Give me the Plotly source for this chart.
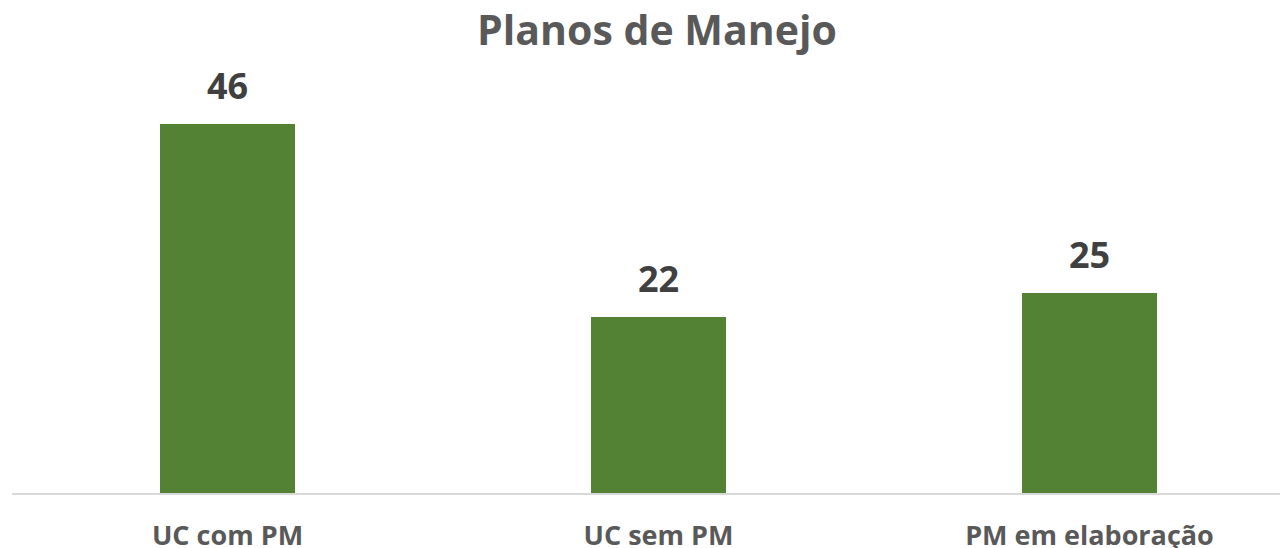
import plotly.graph_objects as go

categories = ["UC com PM", "UC sem PM", "PM em elaboração"]
values = [46, 22, 25]
title_text = "Planos de Manejo"

bar_color = "#548235"
font_family = "Open Sans"

fig = go.Figure()
fig.add_trace(go.Bar(
    x=categories,
    y=values,
    marker=dict(color=bar_color, line=dict(width=0)),
    width=0.313,
    hoverinfo="skip",
))

for c, v in zip(categories, values):
    fig.add_annotation(
        x=c, y=v, text=f"<b>{v}</b>", showarrow=False,
        yanchor="bottom", yshift=12,
        font=dict(family=font_family, size=36, color="#404040"),
    )

fig.update_layout(
    width=1280, height=540,
    margin=dict(l=4, r=0, t=52, b=55, autoexpand=False),
    paper_bgcolor="white", plot_bgcolor="white",
    showlegend=False,
    title=dict(
        text=f"<b>{title_text}</b>", x=0.507, xanchor="center",
        y=0.958, yanchor="middle",
        font=dict(family=font_family, size=41, color="#595959"),
    ),
    bargap=0,
)
fig.update_xaxes(
    range=[-0.5, 2.4606], automargin=False,
    showline=True, linecolor="#d9d9d9", linewidth=1.5,
    showgrid=False, zeroline=False, ticks="",
    tickfont=dict(family=font_family, size=27, color="#595959"),
    ticklabelstandoff=18,
    tickprefix="<b>", ticksuffix="</b>",
)
fig.update_yaxes(
    range=[0, 54.0], visible=False, showgrid=False, zeroline=False,
    automargin=False,
)

fig.write_html("out.html")
